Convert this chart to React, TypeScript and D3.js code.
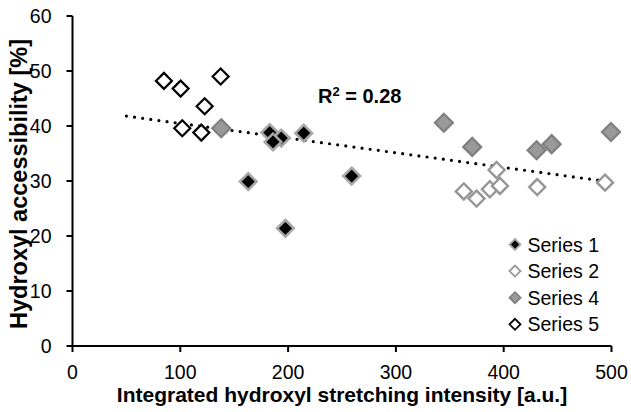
import React from "react";
import * as d3 from "d3";

const X_TICKS = [0, 100, 200, 300, 400, 500];
const Y_TICKS = [0, 10, 20, 30, 40, 50, 60];

const S1_X = [163, 197.5, 259, 214.5, 193.7, 183, 186];
const S1_Y = [29.9, 21.4, 30.9, 38.7, 37.8, 38.8, 37.1];
const S2_X = [393.4, 363, 374.8, 387.2, 396.5, 431.1, 494];
const S2_Y = [32, 28.1, 26.8, 28.5, 29.1, 28.9, 29.7];
const S4_X = [138, 344.5, 370.8, 430.5, 444.5, 499.5];
const S4_Y = [39.6, 40.6, 36.2, 35.6, 36.7, 38.9];
const S5_X = [84.8, 100.3, 137.4, 122.6, 101.8, 119.5];
const S5_Y = [48.2, 46.8, 49, 43.6, 39.6, 38.8];

const TREND_RANGE = [50, 488];
const R2_LABEL = "0.28";

const SERIES = [
  { name: "Series 2", xs: S2_X, ys: S2_Y, fill: "#ffffff", stroke: "#969696", r: 8, sw: 2.4 },
  { name: "Series 4", xs: S4_X, ys: S4_Y, fill: "#999999", stroke: "#7f7f7f", r: 9, sw: 2.2 },
  { name: "Series 5", xs: S5_X, ys: S5_Y, fill: "#ffffff", stroke: "#000000", r: 8, sw: 2.2 },
  { name: "Series 1", xs: S1_X, ys: S1_Y, fill: "#000000", stroke: "#a6a6a6", r: 8.3, sw: 2.6 },
];
const LEGEND_ORDER = ["Series 1", "Series 2", "Series 4", "Series 5"];

const W = 631;
const H = 412;
const x = d3.scaleLinear().domain([0, 500]).range([72.5, 611.5]);
const y = d3.scaleLinear().domain([0, 60]).range([346, 16]);

const diamond = (cx: number, cy: number, r: number) =>
  `M${cx},${cy - r}L${cx + r},${cy}L${cx},${cy + r}L${cx - r},${cy}Z`;

function regression() {
  const xs = [...S1_X, ...S2_X, ...S4_X, ...S5_X];
  const ys = [...S1_Y, ...S2_Y, ...S4_Y, ...S5_Y];
  const mx = d3.mean(xs)!;
  const my = d3.mean(ys)!;
  let sxy = 0, sxx = 0;
  xs.forEach((v, i) => {
    sxy += (v - mx) * (ys[i] - my);
    sxx += (v - mx) * (v - mx);
  });
  const slope = sxy / sxx;
  return { slope, intercept: my - slope * mx };
}

export default function App() {
  const { slope, intercept } = regression();
  const line = d3
    .line<number>()
    .x((d) => x(d))
    .y((d) => y(intercept + slope * d));
  const font = "'Liberation Sans', Arial, sans-serif";
  return (
    <svg
      width={W}
      height={H}
      style={{ position: "absolute", left: 0, top: 0, background: "#fff" }}
      fontFamily={font}
    >
      <rect width={W} height={H} fill="#fff" />
      {/* trend line */}
      <path
        d={line(TREND_RANGE) || ""}
        fill="none"
        stroke="#000"
        strokeWidth={3.2}
        strokeLinecap="round"
        strokeDasharray="0 8.2"
      />
      {/* axes */}
      <line x1={x(0)} x2={x(500)} y1={y(0)} y2={y(0)} stroke="#000" strokeWidth={2} />
      <line x1={x(0)} x2={x(0)} y1={y(0)} y2={y(60)} stroke="#000" strokeWidth={2} />
      {X_TICKS.map((t) => (
        <g key={"x" + t}>
          <line x1={x(t)} x2={x(t)} y1={y(0)} y2={y(0) + 6} stroke="#000" strokeWidth={2} />
          <text x={x(t)} y={378.5} fontSize={19.5} textAnchor="middle" fill="#000">
            {t}
          </text>
        </g>
      ))}
      {Y_TICKS.map((t) => (
        <g key={"y" + t}>
          <line x1={x(0) - 6} x2={x(0)} y1={y(t)} y2={y(t)} stroke="#000" strokeWidth={2} />
          <text x={51.5} y={y(t) + 7} fontSize={19.5} textAnchor="end" fill="#000">
            {t}
          </text>
        </g>
      ))}
      {/* markers */}
      {SERIES.map((s) =>
        s.xs.map((v, i) => (
          <path
            key={s.name + i}
            d={diamond(x(v), y(s.ys[i]), s.r)}
            fill={s.fill}
            stroke={s.stroke}
            strokeWidth={s.sw}
            strokeLinejoin="miter"
          />
        ))
      )}
      {/* R2 */}
      <text x={318} y={102.5} fontSize={20} fontWeight="bold" fill="#000">
        R<tspan fontSize={13} dy={-7}>2</tspan>
        <tspan dy={7}>{" = " + R2_LABEL}</tspan>
      </text>
      {/* legend */}
      {LEGEND_ORDER.map((n, i) => {
        const s = SERIES.find((q) => q.name === n)!;
        const cy = 244.5 + i * 26.6;
        return (
          <g key={n}>
            <path d={diamond(515, cy, 5.5)} fill={s.fill} stroke={s.stroke} strokeWidth={1.8} />
            <text x={527.5} y={cy + 7} fontSize={19.5} fill="#000">
              {n}
            </text>
          </g>
        );
      })}
      {/* axis titles */}
      <text x={342} y={402} fontSize={21} fontWeight="bold" textAnchor="middle" fill="#000">
        Integrated hydroxyl stretching intensity [a.u.]
      </text>
      <text
        transform={`translate(26.5,184) rotate(-90)`}
        fontSize={23.5}
        fontWeight="bold"
        textAnchor="middle"
        fill="#000"
      >
        Hydroxyl accessibility [%]
      </text>
    </svg>
  );
}
